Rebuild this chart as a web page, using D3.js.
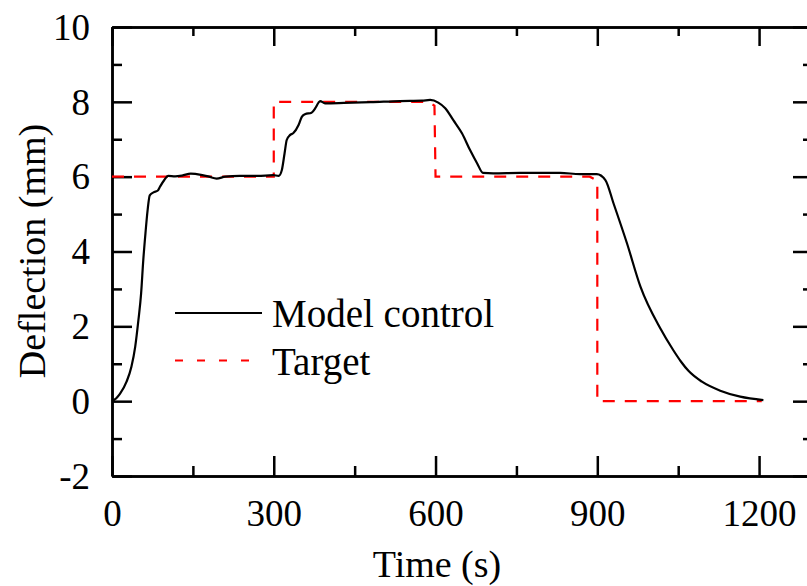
<!DOCTYPE html>
<html>
<head>
<meta charset="utf-8">
<script src="https://cdn.jsdelivr.net/npm/d3@7"></script>
<style>
  body { margin: 0; background: #fff; }
  svg text { font-family: "Liberation Serif", "Times New Roman", serif; fill: #000; }
</style>
</head>
<body>
<div id="chart"></div>
<script>
// model response
var modelTime = [0, 8, 15, 27, 36, 43, 49, 54, 58, 62, 66, 70, 77, 85, 89, 97, 104, 117, 130, 146,
  165, 180, 194, 210, 237, 270, 299, 309, 315, 320, 324, 330, 336, 346, 352, 358, 370, 377, 383,
  386, 395, 430, 480, 534, 575, 590, 605, 618, 633, 649, 664, 677, 688, 707, 757, 831, 868, 899,
  915, 930, 955, 980, 1017, 1041, 1055, 1069, 1094, 1128, 1165, 1208];
var modelDefl = [0, 0.08, 0.2, 0.52, 0.92, 1.45, 2.17, 2.88, 3.77, 4.48, 5.1, 5.5, 5.58, 5.63, 5.73,
  5.91, 6.02, 6.01, 6.03, 6.08, 6.05, 6.0, 5.95, 6.0, 6.02, 6.02, 6.04, 6.02, 6.18, 6.62, 6.98, 7.11,
  7.16, 7.38, 7.6, 7.67, 7.71, 7.83, 7.98, 8.02, 7.96, 7.97, 7.99, 8.02, 8.03, 8.05, 7.98, 7.83, 7.51,
  7.16, 6.71, 6.36, 6.1, 6.09, 6.1, 6.1, 6.07, 6.07, 5.91, 5.29, 4.22, 3.06, 1.94, 1.36, 1.06, 0.81,
  0.52, 0.28, 0.12, 0.03];

// target steps
var targetTime = [0, 300, 300, 585, 598, 600, 886, 900, 900, 1205];
var targetDefl = [6, 6, 8, 8, 7.9, 6, 6, 5.89, 0, 0];

var xTicks = [0, 300, 600, 900, 1200];
var xMinor = [150, 450, 750, 1050];
var yTicks = [-2, 0, 2, 4, 6, 8, 10];
var yMinor = [-1, 1, 3, 5, 7, 9];

var legendNames = ["Model control", "Target"];

var w = 807, h = 586;
// plot frame (right edge sits just past the window)
var plotL = 112, plotR = 813, plotT = 27, plotB = 476;

var svg = d3.select("#chart").append("svg").attr("width", w).attr("height", h);

var x = d3.scaleLinear().domain([0, 1300]).range([plotL, plotR]);
var y = d3.scaleLinear().domain([-2, 10]).range([plotB, plotT]);

/*
 * axes: ticks point inwards on all four sides
 */
function drawAxis(axis, tx, ty) {
  var g = svg.append("g").attr("transform", "translate(" + tx + "," + ty + ")").call(axis);
  g.select(".domain").attr("stroke-width", 2.5).attr("stroke", "#000");
  g.selectAll(".tick line").attr("stroke-width", 2.5).attr("stroke", "#000");
  g.selectAll("text").style("font-size", "37px").style("font-family", "Liberation Serif, serif");
  return g;
}

var noLabel = function () { return ""; };
var fmt = function (d) { return String(d); };   // plain hyphen for -2

var xb = drawAxis(d3.axisBottom(x).tickValues(xTicks).tickFormat(fmt).tickSizeInner(-20).tickSizeOuter(0).tickPadding(0), 0, plotB);
xb.selectAll("text").attr("y", 50).attr("dy", null);
drawAxis(d3.axisBottom(x).tickValues(xMinor).tickSizeInner(-10).tickSizeOuter(0).tickFormat(noLabel), 0, plotB);

drawAxis(d3.axisTop(x).tickValues(xTicks).tickSizeInner(-19).tickSizeOuter(0).tickFormat(noLabel), 0, plotT);
drawAxis(d3.axisTop(x).tickValues(xMinor).tickSizeInner(-9).tickSizeOuter(0).tickFormat(noLabel), 0, plotT);

var yl = drawAxis(d3.axisLeft(y).tickValues(yTicks).tickFormat(fmt).tickSizeInner(-20).tickSizeOuter(0).tickPadding(22), plotL, 0);
yl.selectAll("text").attr("dy", "0.33em");
drawAxis(d3.axisLeft(y).tickValues(yMinor).tickSizeInner(-10).tickSizeOuter(0).tickFormat(noLabel), plotL, 0);

drawAxis(d3.axisRight(y).tickValues(yTicks).tickSizeInner(-20).tickSizeOuter(0).tickFormat(noLabel), plotR, 0);
drawAxis(d3.axisRight(y).tickValues(yMinor).tickSizeInner(-10).tickSizeOuter(0).tickFormat(noLabel), plotR, 0);

// axis titles
svg.append("text").attr("x", 437).attr("y", 577).attr("text-anchor", "middle")
  .style("font-size", "38px").text("Time (s)");
svg.append("text").attr("transform", "translate(45,251) rotate(-90)").attr("text-anchor", "middle")
  .style("font-size", "38px").text("Deflection (mm)");

// lines
var line = d3.line()
  .x(function (d) { return x(d[0]); })
  .y(function (d) { return y(d[1]); });

var targetData = d3.zip(targetTime, targetDefl);
var modelData = d3.zip(modelTime, modelDefl);

svg.append("path").datum(targetData).attr("d", line)
  .attr("fill", "none").attr("stroke", "#ff0000").attr("stroke-width", 2.2)
  .attr("stroke-dasharray", "12,10");

svg.append("path").datum(modelData).attr("d", d3.line().curve(d3.curveMonotoneX)
    .x(function (d) { return x(d[0]); })
    .y(function (d) { return y(d[1]); }))
  .attr("fill", "none").attr("stroke", "#000").attr("stroke-width", 2.2)
  .attr("stroke-linejoin", "round");

// legend
var legendY = [313, 360.5];
svg.append("line").attr("x1", 175).attr("x2", 262).attr("y1", legendY[0]).attr("y2", legendY[0])
  .attr("stroke", "#000").attr("stroke-width", 2.2);
svg.append("line").attr("x1", 175).attr("x2", 262).attr("y1", legendY[1]).attr("y2", legendY[1])
  .attr("stroke", "#ff0000").attr("stroke-width", 2.2).attr("stroke-dasharray", "8,14");
for (var i in legendNames) {
  svg.append("text").attr("x", 272).attr("y", legendY[i] + 14)
    .style("font-size", "39px").text(legendNames[i]);
}
</script>
</body>
</html>
